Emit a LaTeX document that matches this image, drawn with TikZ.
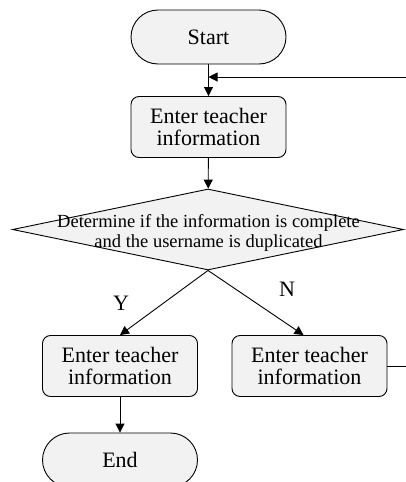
\documentclass[tikz,border=0pt]{standalone}
\usepackage{fontspec}
\setmainfont{Liberation Serif}
\usetikzlibrary{shapes.geometric,arrows.meta}
\definecolor{boxgray}{HTML}{F2F2F2}
\begin{document}
\begin{tikzpicture}[x=1pt,y=-1pt,
  line width=0.9pt,
  arr/.style={-{Triangle[length=9pt,width=9pt]}},
  box/.style={draw=black, fill=boxgray, rounded corners=8pt, minimum width=155pt, minimum height=61pt, align=center, inner sep=0pt, font=\fontsize{22}{22}\selectfont},
  term/.style={draw=black, fill=boxgray, rounded corners=27pt, minimum width=155pt, minimum height=54pt, inner sep=0pt, font=\fontsize{22}{22}\selectfont},
  dia/.style={draw=black, fill=boxgray, shape=diamond, inner sep=0pt, minimum width=391pt, minimum height=81pt},
  lbl/.style={inner sep=0pt, font=\fontsize{22}{22}\selectfont}]
\useasboundingbox (0,0) rectangle (406,482);
\clip (0,0) rectangle (406,482);
\node[term] (start) at (208.5,37) {Start};
\node[box] (b1) at (208.5,127) {Enter teacher\\information};
\node[dia] (dec) at (208,229.5) {};
\node[inner sep=0pt, align=center, font=\fontsize{18.5}{20}\selectfont] (dtext) at (208.5,233) {Determine if the information is complete\\and the username is duplicated};
\node[box] (yb) at (120,366) {Enter teacher\\information};
\node[box] (nb) at (309.5,366) {Enter teacher\\information};
\node[term] (end) at (120,460) {End};
\node[lbl] (ylab) at (121,303) {Y};
\node[lbl] (nlab) at (287,289) {N};
\coordinate (loopin) at (208.5,77);
\draw[arr] (start) -- (b1);
\draw[arr] (b1) -- (dec);
\draw[arr] (dec.south) -- (yb.north);
\draw[arr] (dec.south) -- ([xshift=-6pt]nb.north);
\draw[arr] (yb) -- (end);
\draw[arr] (nb.east) -- (430,366) |- (loopin);
\end{tikzpicture}
\end{document}
